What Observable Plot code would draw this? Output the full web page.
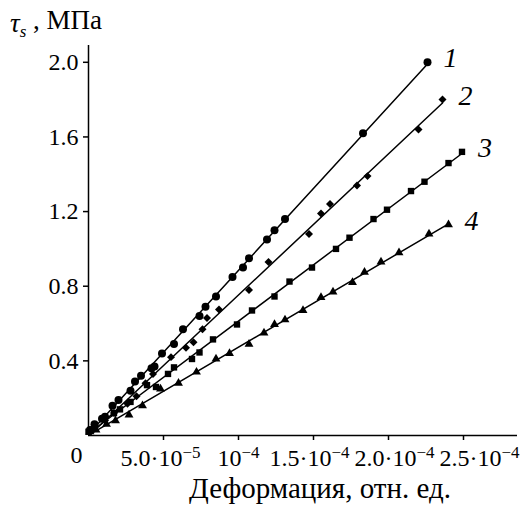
<!DOCTYPE html>
<html><head><meta charset="utf-8">
<script src="https://cdn.jsdelivr.net/npm/d3@7"></script>
<script src="https://cdn.jsdelivr.net/npm/@observablehq/plot@0.6"></script>
<style>
body{margin:0;background:#fff}
#chart{width:523px;height:508px}
</style>
</head><body><div id="chart"></div>
<script>
// Strain values in units of 1e-4 (relative units), stress in MPa
const s1x = [0.01,0.04,0.09,0.11,0.16,0.20,0.28,0.31,0.35,0.42,0.44,0.49,0.57,0.63,0.74,0.78,0.85,0.96,1.03,1.07,1.19,1.24,1.31,1.83,2.26];
const s1y = [0.03,0.06,0.09,0.10,0.16,0.19,0.24,0.29,0.32,0.36,0.37,0.44,0.49,0.57,0.64,0.69,0.745,0.85,0.90,0.95,1.05,1.10,1.16,1.62,2.00];
const s2x = [0.01,0.03,0.11,0.17,0.26,0.32,0.38,0.43,0.55,0.65,0.70,0.76,0.79,0.87,1.07,1.20,1.47,1.55,1.61,1.79,1.86,2.20,2.36];
const s2y = [0.02,0.04,0.08,0.12,0.17,0.21,0.28,0.33,0.42,0.47,0.50,0.57,0.63,0.675,0.78,0.93,1.08,1.19,1.24,1.34,1.39,1.64,1.80];
const s3x = [0.00,0.17,0.21,0.28,0.39,0.45,0.53,0.57,0.69,0.74,0.83,0.99,1.09,1.24,1.34,1.49,1.65,1.74,1.90,1.99,2.15,2.24,2.40,2.49];
const s3y = [0.02,0.12,0.14,0.18,0.27,0.26,0.33,0.365,0.41,0.445,0.515,0.595,0.67,0.745,0.825,0.90,1.00,1.06,1.16,1.21,1.31,1.36,1.46,1.52];
const s4x = [0.01,0.05,0.12,0.18,0.27,0.36,0.48,0.60,0.72,0.85,0.94,1.07,1.17,1.24,1.31,1.43,1.55,1.63,1.76,1.84,1.95,2.07,2.27,2.40];
const s4y = [0.02,0.03,0.06,0.08,0.11,0.16,0.25,0.28,0.34,0.41,0.44,0.49,0.55,0.595,0.62,0.67,0.74,0.77,0.82,0.875,0.93,0.98,1.08,1.13];

const seriesNames = ["1","2","3","4"];
const seriesX = [s1x,s2x,s3x,s4x];
const seriesY = [s1y,s2y,s3y,s4y];

const yTicks = [0.4,0.8,1.2,1.6,2.0];
const xTicks = [5e-5,1e-4,1.5e-4,2e-4,2.5e-4];
const xTickMantissa = ["5.0·","","1.5·","2.0·","2.5·"];
const xTickExponent = ["−5","−4","−4","−4","−4"];
const xTitle = "Деформация, отн. ед.";
const originLabel = ["0"];

// style
const symbols = ["circle","diamond2","square","triangle"];
const radii = [4.0,3.6,3.6,3.3];
const labelShift = [-3,0,-4,6,16];
const FONT = "'Liberation Serif','Times New Roman',serif";

const series = seriesNames.map((name,i)=>seriesX[i].map((x,j)=>({series:name, x:x*1e-4, y:seriesY[i][j]})));
const lastPts = series.map(s=>s[s.length-1]);

const marks = [
  Plot.ruleY([0],{stroke:"#000",strokeWidth:1.5}),
  Plot.ruleX([0],{stroke:"#000",strokeWidth:1.5}),
  Plot.axisY(yTicks,{tickSize:5,tickPadding:5,tickFormat:d=>d.toFixed(1),label:null,fontSize:24,strokeWidth:1.5}),
  Plot.axisX(xTicks,{tickSize:5,tickPadding:8,tickFormat:(d,i)=>String(i),label:null,fontSize:24,strokeWidth:1.5}),
];
series.forEach((s,i)=>{
  marks.push(Plot.linearRegressionY(s,{x:"x",y:"y",ci:0,stroke:"#000",strokeWidth:1.5}));
  marks.push(Plot.dot(s,{x:"x",y:"y",symbol:symbols[i],fill:"#000",stroke:"none",r:radii[i]}));
});
marks.push(Plot.text(lastPts,{x:"x",y:"y",text:"series",dx:23,dy:-4,fontStyle:"italic",fontSize:28,textAnchor:"middle"}));
marks.push(Plot.text(originLabel,{x:()=>0,y:()=>0,text:d=>d,dx:-12,dy:20,fontSize:24}));
marks.push(Plot.text([xTitle],{frameAnchor:"bottom",text:d=>d,dx:17,dy:62,fontSize:29,lineAnchor:"bottom"}));

const plot = Plot.plot({
  width:523,height:508,
  marginLeft:88,marginRight:6,marginTop:45,marginBottom:73,
  style:{fontFamily:FONT,fontSize:"24px",color:"#000",background:"#fff",overflow:"visible"},
  x:{domain:[0,2.86e-4]},
  y:{domain:[0,2.09]},
  marks
});
document.getElementById("chart").appendChild(plot);

// superscript exponents on x tick labels
const svg = d3.select(plot);
svg.selectAll('g[aria-label="x-axis tick label"] text').each(function(d,i){
  const t = d3.select(this);
  t.text(null);
  t.attr("dx", labelShift[i]);
  t.append("tspan").text(xTickMantissa[i] + "10");
  t.append("tspan").attr("dy","-0.45em").attr("font-size","17px").text(xTickExponent[i]);
});

// y-axis title
const yt = svg.append("text").attr("x",10).attr("y",32).attr("text-anchor","start")
  .attr("font-family",FONT).attr("font-size","27px").attr("fill","#000");
yt.append("tspan").attr("font-style","italic").text("τ");
yt.append("tspan").attr("font-style","italic").attr("font-size","17px").attr("dy","0.3em").text("s");
yt.append("tspan").attr("dy","-0.3em").text(" , МПа");
</script>
</body></html>
